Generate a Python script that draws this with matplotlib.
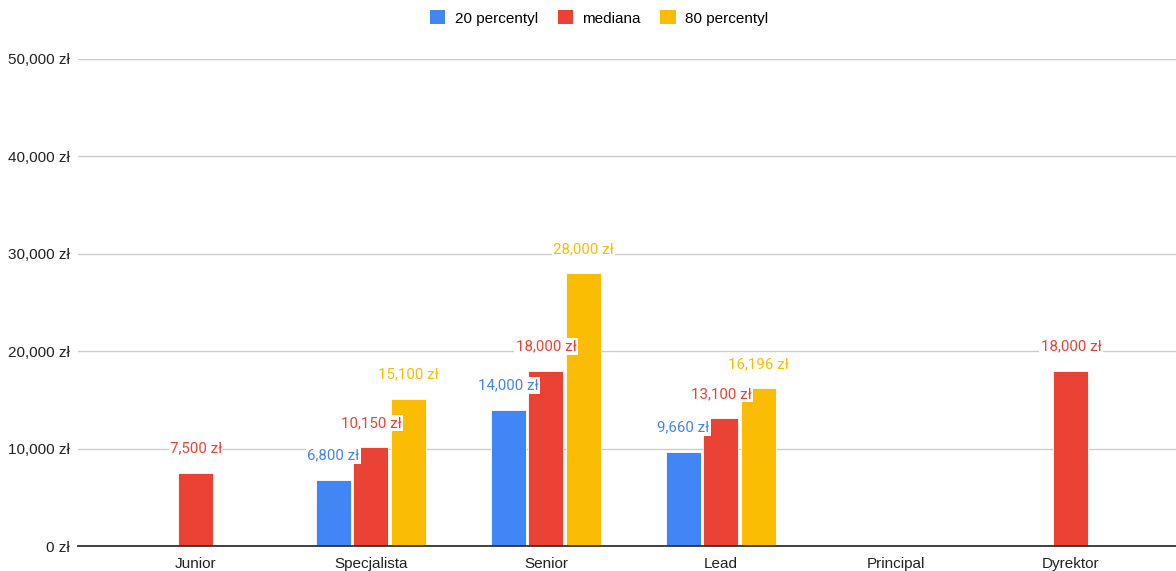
import numpy as np
import matplotlib
matplotlib.use("Agg")
import matplotlib.pyplot as plt
from matplotlib.patches import Patch
from matplotlib.ticker import FuncFormatter

categories = ["Junior", "Specjalista", "Senior", "Lead", "Principal", "Dyrektor"]
series_names = ["20 percentyl", "mediana", "80 percentyl"]
p20 = [np.nan, 6800, 14000, 9660, np.nan, np.nan]
median = [7500, 10150, 18000, 13100, np.nan, 18000]
p80 = [np.nan, 15100, 28000, 16196, np.nan, np.nan]
colors = ["#4285F4", "#EA4335", "#FBBC04"]
yticks = [0, 10000, 20000, 30000, 40000, 50000]

fig = plt.figure(figsize=(11.76, 5.71), dpi=100)
ax = fig.add_axes([78 / 1176, 25 / 571, 1098 / 1176, 487 / 571])

x = np.arange(len(categories))
width = 0.2
offset = 0.214
series = [p20, median, p80]
for i, (vals, col, name) in enumerate(zip(series, colors, series_names)):
    xs = x + (i - 1) * offset
    v = np.array(vals, dtype=float)
    ax.bar(xs, v, width=width, color=col, edgecolor="white", linewidth=0.6, zorder=3)
    for xi, vi in zip(xs, v):
        if np.isnan(vi):
            continue
        ax.annotate(f"{int(vi):,} zł", (xi, vi), xytext=(0, 17.5), textcoords="offset points",
                    ha="center", va="center", color=col, fontsize=10.8, family="Roboto",
                    bbox=dict(boxstyle="square,pad=0.08", fc="white", ec="none"), zorder=5)

ax.set_xlim(-0.674, 5.6)
ax.set_ylim(0, 50000)
ax.set_xticks(x)
ax.set_xticklabels(categories, family="Liberation Sans", fontsize=11, color="#222222")
ax.set_yticks(yticks)
ax.yaxis.set_major_formatter(FuncFormatter(lambda v, p: f"{int(v):,} zł"))
for lbl in ax.get_yticklabels():
    lbl.set_family("Liberation Sans")
    lbl.set_fontsize(11)
    lbl.set_color("#222222")
ax.tick_params(axis="both", length=0)
ax.tick_params(axis="x", pad=8)
ax.tick_params(axis="y", pad=6)
ax.grid(axis="y", color="#cccccc", linewidth=1, zorder=0)
ax.set_axisbelow(True)
for s in ["top", "right", "left"]:
    ax.spines[s].set_visible(False)
ax.spines["bottom"].set_color("#333333")
ax.spines["bottom"].set_linewidth(1.3)
ax.spines["bottom"].set_zorder(4)

handles = [Patch(facecolor=c, edgecolor="none") for c in colors]
fig.legend(handles, series_names, loc="center", bbox_to_anchor=(599 / 1176, 1 - 18 / 571),
           ncol=3, frameon=False, handlelength=1.0, handleheight=1.0, handletextpad=0.6,
           columnspacing=1.3, prop={"family": "Liberation Sans", "size": 11})

fig.savefig("out.png", dpi=100)
